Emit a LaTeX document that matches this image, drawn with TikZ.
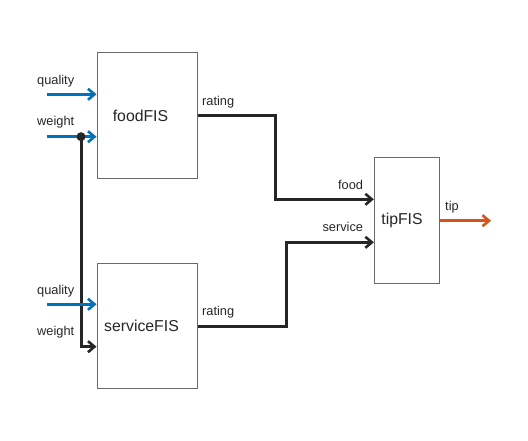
\documentclass[tikz,border=0pt]{standalone}
\usepackage{fontspec}
\setmainfont{Liberation Sans}
\usetikzlibrary{arrows.meta}
\definecolor{inblue}{HTML}{0072BD}
\definecolor{outorange}{HTML}{D95319}
\definecolor{wire}{HTML}{262626}
\definecolor{boxgray}{HTML}{6A6A6A}
\begin{document}
\begin{tikzpicture}[x=1pt,y=-1pt,
  fisbox/.style={draw=boxgray,line width=1pt,fill=white,inner sep=0pt},
  boxtext/.style={font=\fontsize{15.8}{18}\selectfont,text=wire,inner sep=0pt},
  lbl/.style={font=\fontsize{12.8}{15}\selectfont,text=wire,inner sep=0pt},
  tipstyle/.style={-{Straight Barb[length=6.5pt,width=11pt,line width=2.6pt]}},
  conn/.style={draw=wire,line width=3pt,tipstyle},
  inarrow/.style={draw=inblue,line width=3pt,tipstyle},
  outarrow/.style={draw=outorange,line width=3pt,tipstyle}]
\useasboundingbox (0,0) rectangle (528,440);
% boxes
\node[fisbox,minimum width=100pt,minimum height=126pt] (food) at (147,115.3) {};
\node[fisbox,minimum width=100pt,minimum height=125pt] (serv) at (147,325.8) {};
\node[fisbox,minimum width=64.7pt,minimum height=125.6pt] (tip) at (406.7,220.5) {};
\node[boxtext] (foodt) at (140.5,116) {foodFIS};
\node[boxtext] (servt) at (141.5,326) {serviceFIS};
\node[boxtext] (tipt) at (402,220) {tipFIS};
% input free ends
\coordinate (fq) at (46.7,94.3);
\coordinate (fw) at (46.7,136.7);
\coordinate (sq) at (46.7,304.3);
\coordinate (dot) at (81,136.7);
\coordinate (tipend) at (491,220.7);
% labels
\node[lbl,anchor=west] (lfq) at (37,81) {quality};
\node[lbl,anchor=west] (lfw) at (37,122) {weight};
\node[lbl,anchor=west] (lsq) at (37,291) {quality};
\node[lbl,anchor=west] (lsw) at (37,332) {weight};
\node[lbl,anchor=west] (lr1) at (202,102.3) {rating};
\node[lbl,anchor=west] (lr2) at (202,311.7) {rating};
\node[lbl,anchor=east] (lfood) at (363.3,185.3) {food};
\node[lbl,anchor=east] (lserv) at (363.3,227.3) {service};
\node[lbl,anchor=west] (ltip) at (445,206.7) {tip};
% weight branch
\draw[conn] (dot) |- (serv.west |- 0,346.7);
% inputs
\draw[inarrow] (fq) -- (food.west |- fq);
\draw[inarrow] (fw) -- (food.west |- fw);
\draw[inarrow] (sq) -- (serv.west |- sq);
\fill[wire] (dot) circle (4.5pt);
% rating connectors
\draw[conn] (food.east |- 0,115) -- (275.7,115) |- (tip.west |- 0,199.3);
\draw[conn] (serv.east |- 0,326) -- (286,326) |- (tip.west |- 0,242.3);
% output
\draw[outarrow] (tip.east |- tipend) -- (tipend);
\end{tikzpicture}
\end{document}
